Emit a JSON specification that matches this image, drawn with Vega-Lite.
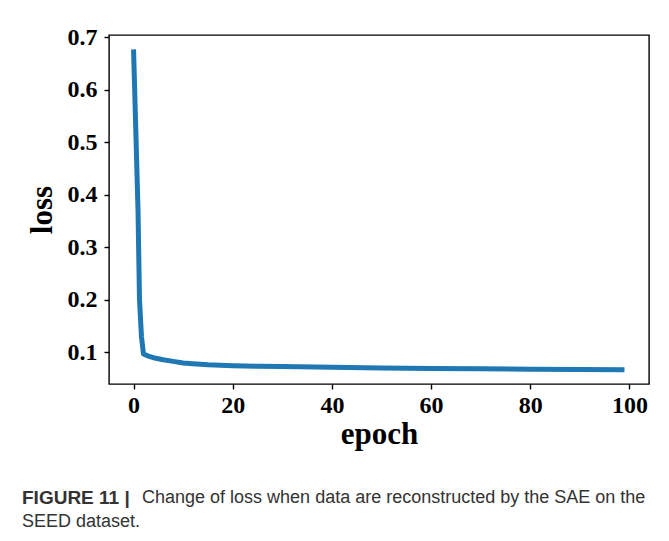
{
  "$schema": "https://vega.github.io/schema/vega-lite/v6.json",
  "width": 540,
  "height": 349,
  "autosize": {"type": "none"},
  "padding": {"left": 109, "top": 35, "right": 20, "bottom": 157},
  "background": "white",
  "config": {
    "view": {"stroke": "black", "strokeWidth": 1.4},
    "axis": {
      "domain": false,
      "grid": false,
      "labelFont": "Liberation Serif",
      "labelFontWeight": "bold",
      "labelFontSize": 24,
      "labelColor": "black",
      "tickColor": "black",
      "tickWidth": 1.4,
      "tickSize": 5,
      "titleFont": "Liberation Serif",
      "titleFontWeight": "bold",
      "titleFontSize": 31,
      "titleColor": "black"
    }
  },
  "title": {
    "text": "FIGURE 11 |",
    "subtitle": ["\u200b\u00a0\u00a0\u00a0\u00a0\u00a0\u00a0\u00a0\u00a0\u00a0\u00a0\u00a0\u00a0\u00a0\u00a0\u00a0\u00a0\u00a0\u00a0\u00a0\u00a0\u00a0\u00a0\u00a0\u00a0Change of loss when data are reconstructed by the SAE on the", "SEED dataset."],
    "orient": "bottom",
    "anchor": "start",
    "frame": "group",
    "dx": -87,
    "offset": 40,
    "font": "Liberation Sans",
    "subtitleFont": "Liberation Sans",
    "fontSize": 19,
    "subtitleFontSize": 18,
    "fontWeight": "bold",
    "subtitleFontWeight": "normal",
    "color": "#333333",
    "subtitleColor": "#333333",
    "subtitlePadding": -19,
    "subtitleLineHeight": 24
  },
  "data": {
    "values": [
      {"epoch": 0, "loss": 0.677},
      {"epoch": 0.9, "loss": 0.372},
      {"epoch": 1.2, "loss": 0.2},
      {"epoch": 1.6, "loss": 0.13},
      {"epoch": 2, "loss": 0.097},
      {"epoch": 3, "loss": 0.093},
      {"epoch": 4, "loss": 0.09},
      {"epoch": 5, "loss": 0.088},
      {"epoch": 6, "loss": 0.086},
      {"epoch": 8, "loss": 0.083},
      {"epoch": 10, "loss": 0.08},
      {"epoch": 12, "loss": 0.0785},
      {"epoch": 15, "loss": 0.0765},
      {"epoch": 20, "loss": 0.0748},
      {"epoch": 25, "loss": 0.0737},
      {"epoch": 30, "loss": 0.073},
      {"epoch": 40, "loss": 0.0716},
      {"epoch": 50, "loss": 0.0705},
      {"epoch": 60, "loss": 0.0696},
      {"epoch": 70, "loss": 0.0689},
      {"epoch": 80, "loss": 0.0682},
      {"epoch": 90, "loss": 0.0676},
      {"epoch": 99, "loss": 0.067}
    ]
  },
  "mark": {"type": "line", "color": "#1f77b4", "strokeWidth": 5, "strokeCap": "butt", "strokeJoin": "round"},
  "encoding": {
    "x": {
      "field": "epoch",
      "type": "quantitative",
      "scale": {"domain": [-4.95, 103.95], "nice": false, "zero": false},
      "axis": {"values": [0, 20, 40, 60, 80, 100], "title": "epoch", "labelPadding": 4, "titlePadding": 2, "format": "d"}
    },
    "y": {
      "field": "loss",
      "type": "quantitative",
      "scale": {"domain": [0.0399, 0.7044], "nice": false, "zero": false},
      "axis": {"values": [0.1, 0.2, 0.3, 0.4, 0.5, 0.6, 0.7], "format": ".1f", "title": "loss", "labelPadding": 7, "titlePadding": 9}
    }
  }
}
